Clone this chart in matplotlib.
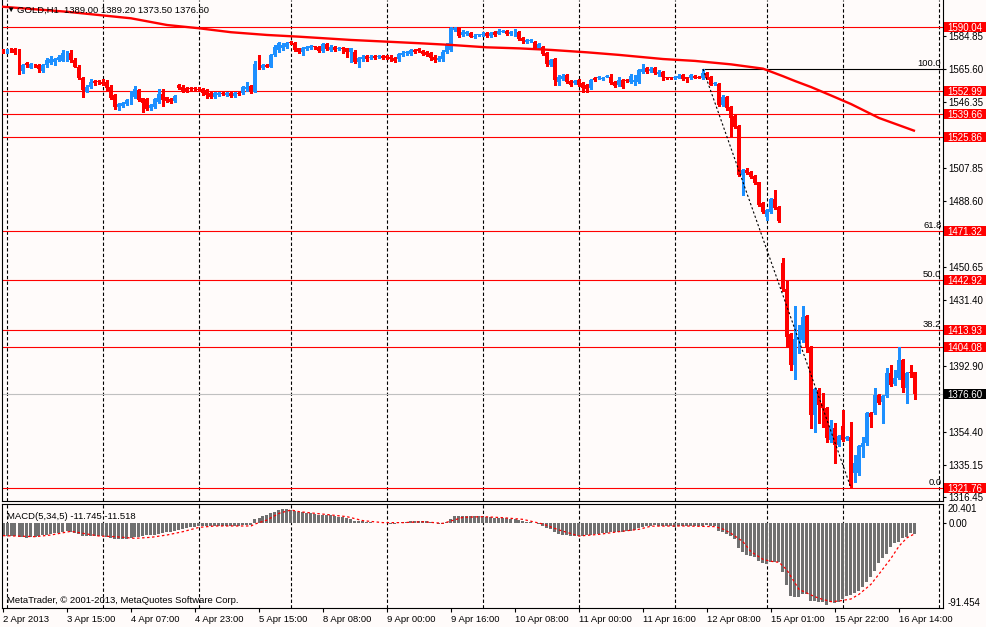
import numpy as np
import matplotlib.pyplot as plt
from matplotlib import transforms
from matplotlib.patches import Rectangle

plt.rcParams['font.family'] = ['Liberation Sans', 'DejaVu Sans']

# ---- GOLD H1 candles ----
opens = [1576.0, 1575.6, 1576.8, 1577.0, 1576.8, 1564.4, 1568.9, 1566.4, 1568.0, 1567.7,
         1564.5, 1567.7, 1569.3, 1569.5, 1570.8, 1570.5, 1571.0, 1574.7, 1571.0, 1567.0,
         1560.2, 1552.4, 1555.3, 1558.6, 1558.3, 1558.2, 1558.2, 1555.3, 1550.5, 1543.7,
         1544.0, 1545.2, 1545.6, 1549.5, 1553.4, 1548.5, 1547.9, 1542.7, 1543.7, 1546.6,
         1551.0, 1549.1, 1548.3, 1547.0, 1556.3, 1555.3, 1554.4, 1554.4, 1554.3, 1554.0,
         1553.8, 1553.4, 1551.4, 1549.5, 1550.5, 1551.4, 1550.5, 1551.4, 1549.9, 1551.8,
         1551.4, 1553.8, 1555.7, 1552.4, 1568.9, 1566.0, 1567.9, 1567.0, 1573.7, 1576.7,
         1577.6, 1578.6, 1581.5, 1580.9, 1577.6, 1575.7, 1577.0, 1577.6, 1578.6, 1578.6,
         1576.3, 1580.1, 1576.7, 1578.6, 1577.2, 1577.8, 1577.6, 1575.7, 1575.7, 1569.9,
         1571.2, 1573.2, 1572.2, 1573.4, 1572.6, 1573.4, 1573.4, 1572.8, 1572.2, 1571.2,
         1573.7, 1574.7, 1574.1, 1576.7, 1577.1, 1576.1, 1575.3, 1574.7, 1572.8, 1570.8,
         1571.2, 1575.7, 1576.7, 1588.3, 1589.7, 1585.4, 1585.8, 1586.4, 1584.2, 1585.2,
         1585.4, 1586.4, 1585.0, 1586.9, 1586.2, 1587.3, 1587.7, 1585.8, 1585.4, 1587.3,
         1583.4, 1581.1, 1581.9, 1581.1, 1577.6, 1578.6, 1574.7, 1567.9, 1571.2, 1558.2,
         1559.6, 1562.1, 1558.6, 1557.6, 1559.2, 1557.3, 1556.3, 1554.4, 1560.2, 1560.5,
         1559.8, 1561.1, 1561.1, 1558.2, 1556.3, 1559.2, 1558.8, 1558.2, 1558.2, 1558.2,
         1564.0, 1566.4, 1564.4, 1566.0, 1562.5, 1563.7, 1560.8, 1560.8, 1560.2, 1560.6,
         1562.1, 1560.8, 1560.2, 1561.3, 1561.0, 1560.2, 1563.1, 1561.1, 1556.7, 1556.7,
         1544.7, 1549.5, 1543.7, 1538.4, 1532.6, 1503.9, 1506.8, 1505.8, 1503.5, 1499.6,
         1487.4, 1479.7, 1482.6, 1490.0, 1485.5, 1452.9, 1437.4, 1411.4, 1393.3, 1407.9,
         1407.9, 1421.9, 1404.0, 1364.2, 1378.8, 1371.0, 1368.1, 1349.7, 1356.5, 1346.8,
         1357.8, 1350.1, 1351.2, 1330.3, 1330.3, 1345.8, 1347.7, 1365.6, 1365.6, 1375.9,
         1372.0, 1375.5, 1388.5, 1382.1, 1385.6, 1396.2, 1380.1, 1388.9, 1389.0]
highs = [1577.0, 1577.0, 1577.8, 1578.0, 1577.4, 1568.5, 1569.5, 1569.0, 1568.5, 1568.3,
         1568.5, 1572.0, 1573.0, 1572.0, 1574.0, 1576.5, 1576.0, 1576.7, 1572.0, 1568.0,
         1561.0, 1556.5, 1559.5, 1559.2, 1559.0, 1559.5, 1559.0, 1556.0, 1551.0, 1546.0,
         1546.5, 1548.0, 1553.0, 1555.7, 1554.0, 1549.0, 1548.5, 1545.5, 1549.0, 1553.7,
         1553.7, 1549.5, 1549.0, 1550.5, 1557.0, 1556.0, 1555.0, 1555.0, 1555.0, 1555.0,
         1554.5, 1554.0, 1552.0, 1552.0, 1552.5, 1552.0, 1552.5, 1552.0, 1552.5, 1552.5,
         1555.5, 1558.0, 1556.0, 1570.5, 1573.7, 1568.5, 1568.5, 1574.5, 1579.5, 1581.5,
         1580.5, 1581.5, 1582.0, 1581.5, 1578.0, 1578.5, 1579.0, 1579.5, 1579.0, 1579.0,
         1581.0, 1581.0, 1579.5, 1579.0, 1578.6, 1578.6, 1578.0, 1578.0, 1576.5, 1572.5,
         1573.5, 1574.0, 1573.5, 1574.0, 1574.0, 1574.0, 1574.0, 1573.5, 1572.8, 1574.8,
         1576.0, 1576.0, 1577.5, 1577.5, 1577.8, 1576.8, 1576.0, 1575.5, 1573.5, 1573.0,
         1576.5, 1580.5, 1589.8, 1590.04, 1589.9, 1588.5, 1587.5, 1587.0, 1585.8, 1586.2,
         1587.0, 1587.0, 1587.2, 1587.5, 1589.0, 1588.5, 1588.5, 1587.5, 1589.0, 1588.0,
         1584.0, 1583.0, 1583.0, 1581.8, 1580.8, 1579.2, 1575.3, 1571.5, 1572.0, 1562.0,
         1562.5, 1562.8, 1559.2, 1559.2, 1559.8, 1558.0, 1557.0, 1560.0, 1561.0, 1561.5,
         1561.2, 1562.0, 1562.5, 1558.8, 1561.1, 1560.0, 1559.5, 1562.5, 1562.1, 1565.8,
         1568.3, 1567.0, 1566.5, 1566.6, 1565.0, 1564.3, 1561.2, 1561.2, 1561.7, 1562.5,
         1562.8, 1561.2, 1562.8, 1562.0, 1561.5, 1565.6, 1563.8, 1561.5, 1557.8, 1557.3,
         1550.2, 1550.0, 1544.3, 1539.0, 1533.0, 1507.4, 1508.2, 1506.4, 1504.0, 1500.0,
         1488.0, 1484.0, 1490.6, 1495.2, 1486.0, 1455.4, 1442.4, 1412.0, 1427.7, 1416.6,
         1427.7, 1422.4, 1404.5, 1379.8, 1380.0, 1376.8, 1369.0, 1361.3, 1359.4, 1352.6,
         1367.1, 1352.2, 1360.3, 1341.0, 1346.8, 1351.6, 1366.2, 1366.0, 1379.8, 1376.5,
         1376.0, 1391.4, 1393.3, 1390.4, 1404.08, 1396.8, 1389.0, 1393.3, 1389.2]
lows = [1575.0, 1575.0, 1575.2, 1574.5, 1562.7, 1563.5, 1567.0, 1566.0, 1566.8, 1564.0,
        1564.0, 1567.0, 1568.5, 1568.0, 1570.0, 1570.0, 1570.5, 1569.8, 1566.5, 1559.5,
        1549.5, 1552.0, 1554.5, 1556.5, 1557.0, 1556.0, 1553.5, 1548.0, 1542.5, 1541.5,
        1543.5, 1544.5, 1545.0, 1549.0, 1547.0, 1540.8, 1541.5, 1542.0, 1543.0, 1546.0,
        1544.1, 1546.5, 1546.0, 1546.5, 1554.0, 1552.5, 1552.5, 1553.4, 1553.0, 1552.8,
        1550.5, 1549.0, 1548.5, 1549.0, 1550.0, 1550.5, 1550.0, 1549.5, 1549.5, 1550.5,
        1551.0, 1553.0, 1551.5, 1552.0, 1565.5, 1565.5, 1566.5, 1566.5, 1573.0, 1575.5,
        1576.5, 1578.0, 1580.0, 1576.0, 1575.0, 1573.5, 1576.5, 1577.0, 1577.5, 1575.5,
        1575.5, 1576.5, 1576.0, 1576.0, 1576.7, 1574.7, 1572.8, 1569.9, 1568.9, 1567.0,
        1570.5, 1570.5, 1571.5, 1571.5, 1572.0, 1571.5, 1571.5, 1570.5, 1569.5, 1570.5,
        1573.0, 1574.0, 1573.5, 1575.0, 1575.5, 1573.5, 1573.0, 1571.0, 1569.5, 1570.0,
        1570.5, 1575.0, 1576.0, 1587.5, 1584.5, 1585.0, 1585.5, 1584.0, 1583.5, 1584.8,
        1585.0, 1584.5, 1584.5, 1585.0, 1585.8, 1587.0, 1585.3, 1585.3, 1585.0, 1582.5,
        1581.0, 1580.5, 1581.5, 1577.0, 1577.0, 1573.5, 1567.5, 1567.5, 1556.3, 1556.3,
        1559.0, 1557.5, 1555.8, 1557.0, 1555.8, 1552.4, 1552.4, 1553.8, 1558.8, 1560.0,
        1559.2, 1560.8, 1556.8, 1555.3, 1555.8, 1554.4, 1558.0, 1557.5, 1556.3, 1557.5,
        1563.5, 1563.5, 1564.0, 1562.5, 1561.7, 1559.2, 1560.0, 1560.0, 1559.8, 1560.2,
        1559.2, 1558.2, 1559.8, 1560.2, 1560.2, 1559.8, 1560.0, 1556.0, 1556.3, 1544.0,
        1544.0, 1542.0, 1526.2, 1531.5, 1503.3, 1492.3, 1504.3, 1502.3, 1498.5, 1486.0,
        1481.6, 1477.7, 1482.0, 1484.0, 1476.5, 1436.5, 1404.0, 1390.4, 1385.0, 1400.1,
        1406.5, 1401.1, 1356.5, 1354.5, 1359.4, 1357.4, 1348.7, 1348.7, 1336.1, 1346.2,
        1349.0, 1349.5, 1321.76, 1325.4, 1329.5, 1340.0, 1347.0, 1357.4, 1365.0, 1370.4,
        1359.8, 1375.0, 1381.0, 1381.5, 1385.0, 1377.8, 1371.0, 1386.5, 1373.5]
closes = [1575.6, 1576.4, 1575.8, 1575.1, 1564.6, 1568.0, 1567.7, 1568.3, 1567.4, 1565.6,
          1568.0, 1570.8, 1571.2, 1571.5, 1572.4, 1575.0, 1574.7, 1571.0, 1567.0, 1560.2,
          1553.4, 1555.3, 1558.2, 1557.3, 1557.8, 1556.9, 1554.4, 1548.5, 1543.7, 1545.2,
          1545.6, 1547.6, 1552.4, 1553.8, 1547.6, 1545.6, 1542.1, 1544.7, 1548.2, 1551.0,
          1547.6, 1547.2, 1546.4, 1549.9, 1554.4, 1553.0, 1553.0, 1553.8, 1553.8, 1553.4,
          1551.4, 1550.5, 1549.5, 1551.4, 1551.8, 1551.0, 1551.8, 1550.1, 1551.8, 1550.9,
          1554.9, 1555.3, 1552.8, 1568.5, 1566.0, 1567.9, 1567.0, 1573.7, 1578.6, 1580.5,
          1579.6, 1580.5, 1580.5, 1576.7, 1575.7, 1577.6, 1578.6, 1579.0, 1578.2, 1576.1,
          1580.1, 1577.0, 1578.6, 1576.7, 1578.0, 1577.2, 1575.7, 1577.6, 1569.9, 1571.8,
          1572.8, 1571.2, 1572.8, 1572.2, 1573.0, 1572.2, 1572.2, 1571.2, 1570.3, 1574.1,
          1575.1, 1575.1, 1576.7, 1575.7, 1576.1, 1574.1, 1573.7, 1571.8, 1570.8, 1572.2,
          1575.7, 1579.6, 1589.3, 1589.3, 1585.0, 1586.9, 1586.9, 1584.4, 1585.0, 1585.6,
          1586.2, 1585.0, 1586.4, 1585.4, 1587.7, 1587.7, 1585.8, 1586.9, 1587.7, 1583.1,
          1581.9, 1582.5, 1582.3, 1577.6, 1580.0, 1574.1, 1568.3, 1570.8, 1559.2, 1561.1,
          1561.5, 1558.2, 1556.3, 1558.6, 1556.3, 1554.4, 1554.0, 1559.2, 1559.2, 1560.9,
          1560.6, 1561.5, 1557.3, 1555.9, 1559.2, 1555.3, 1558.4, 1561.7, 1559.2, 1565.0,
          1565.6, 1564.0, 1565.6, 1563.1, 1564.0, 1561.1, 1560.4, 1560.4, 1561.1, 1561.7,
          1559.8, 1559.8, 1562.1, 1560.6, 1560.6, 1563.1, 1560.6, 1556.3, 1557.3, 1544.7,
          1549.5, 1542.7, 1537.3, 1532.0, 1503.9, 1506.8, 1504.9, 1502.9, 1499.1, 1486.5,
          1482.2, 1483.5, 1490.0, 1484.5, 1477.1, 1437.4, 1409.4, 1393.3, 1408.3, 1409.4,
          1421.1, 1404.0, 1364.2, 1379.2, 1370.0, 1368.1, 1350.6, 1357.4, 1346.8, 1352.0,
          1349.7, 1351.6, 1323.0, 1336.1, 1346.2, 1347.7, 1365.6, 1363.3, 1375.9, 1371.0,
          1375.3, 1388.9, 1381.7, 1385.6, 1396.2, 1380.1, 1388.5, 1388.5, 1376.6]

# 200-period moving average (red thick line), sampled along the chart
ma_bars = [-1, 16, 32, 41, 49, 57, 66, 74, 87, 96, 104, 112, 121, 129, 137, 146, 154,
           165, 173, 182, 190, 195, 198, 202, 207, 212, 219, 228]
ma_vals = [1602.0, 1598.9, 1595.1, 1591.2, 1589.3, 1587.0, 1585.4, 1584.4, 1582.5, 1581.5,
           1580.6, 1579.6, 1578.2, 1577.6, 1576.7, 1575.3, 1573.8, 1571.4, 1570.3, 1568.3,
           1565.8, 1561.4, 1558.6, 1555.1, 1550.2, 1545.2, 1537.1, 1529.5]

# MACD(5,34,5) histogram per bar and signal line
macd_hist = [-13.0, -13.7, -14.1, -14.1, -14.8, -15.5, -15.9, -15.5, -14.8, -14.1,
             -13.4, -13.0, -12.3, -11.2, -10.5, -9.8, -9.1, -9.4, -10.5, -12.0,
             -13.7, -14.1, -14.1, -14.1, -14.1, -13.7, -14.8, -15.9, -17.0, -17.7,
             -17.7, -16.9, -16.2, -15.5, -14.8, -14.1, -13.4, -13.4, -12.7, -12.0,
             -10.9, -10.1, -9.4, -8.7, -7.6, -6.2, -5.5, -4.8, -4.0, -3.3,
             -3.3, -3.3, -3.3, -3.3, -3.7, -3.7, -3.7, -3.3, -3.3, -3.0,
             -2.6, -2.6, -2.6, 4.2, 5.6, 7.4, 8.9, 10.3, 11.7, 13.9,
             14.6, 14.6, 13.9, 12.8, 12.1, 11.4, 10.7, 10.3, 9.6, 8.9,
             8.9, 8.9, 8.5, 7.8, 6.7, 6.0, 5.3, 4.6, 2.4, 1.7,
             1.7, 1.0, 0.6, 0.3, 0.3, 0.0, -0.4, -0.8, -0.8, -0.4,
             0.6, 1.0, 2.0, 2.0, 2.0, 2.0, 1.7, 1.0, -0.4, -1.5,
             -0.8, 1.0, 3.8, 7.4, 7.4, 7.4, 7.4, 7.4, 7.4, 7.1,
             6.7, 6.3, 6.0, 5.6, 5.6, 5.3, 4.9, 4.6, 4.2, 3.1,
             1.7, 1.0, 0.6, -0.4, -1.5, -3.0, -5.1, -6.9, -10.1, -12.3,
             -12.7, -12.7, -13.7, -14.1, -14.1, -13.7, -13.4, -12.7, -12.3, -11.6,
             -11.2, -10.5, -10.1, -10.1, -9.8, -9.4, -9.1, -8.4, -7.3, -5.8,
             -4.4, -3.7, -2.8, -2.3, -3.0, -3.0, -3.3, -3.7, -4.0, -3.7,
             -3.7, -3.7, -3.3, -3.3, -3.3, -3.0, -2.6, -3.3, -3.3, -8.7,
             -9.4, -12.0, -13.7, -17.3, -26.6, -31.0, -34.5, -35.6, -37.0, -40.6,
             -42.8, -44.2, -41.7, -41.7, -41.7, -52.5, -66.8, -78.6, -79.3, -79.3,
             -76.8, -76.8, -83.6, -83.6, -84.7, -84.7, -88.0, -84.7, -86.5, -84.7,
             -81.5, -78.6, -77.5, -75.8, -72.9, -68.6, -63.2, -57.8, -51.4, -42.8,
             -38.1, -33.5, -25.6, -22.0, -20.2, -15.9, -15.2, -11.0, -11.745]
sig_bars = [0, 8, 12, 17, 20, 24, 28, 33, 37, 41, 45, 49, 53, 62, 63, 66, 69, 72, 74, 78,
            81, 86, 90, 95, 100, 105, 110, 115, 120, 125, 130, 135, 139, 144, 149, 154,
            159, 162, 170, 178, 180, 182, 185, 187, 190, 192, 194, 196, 197, 199, 202,
            204, 207, 209, 212, 214, 217, 219, 222, 224, 226, 228]
sig_vals = [-13.7, -14.8, -13.0, -9.0, -11.2, -14.1, -14.8, -16.6, -15.5, -13.0, -9.4,
            -4.8, -3.3, -3.3, -1.2, 3.1, 10.3, 13.9, 12.1, 10.3, 9.0, 6.7, 2.4, 0.3, 0.3,
            1.3, -0.5, 6.0, 6.7, 5.6, 3.8, -1.2, -7.6, -14.1, -12.3, -9.4, -6.9, -3.5,
            -3.3, -4.0, -6.6, -11.2, -20.2, -31.0, -39.2, -41.3, -42.4, -50.7, -57.8,
            -71.4, -77.5, -81.1, -84.7, -84.0, -81.8, -76.8, -66.0, -55.0, -38.1, -25.0,
            -16.0, -11.518]

# horizontal levels, fibo, axis labels
red_levels = [1590.04, 1552.99, 1539.66, 1525.86, 1471.32, 1442.92, 1413.93, 1404.08, 1321.76]
bid = 1376.60
fib_names = ["100.0", "61.8", "50.0", "38.2", "0.0"]
fib_prices = [1565.60, 1471.32, 1442.92, 1413.93, 1321.76]
fib_from = (175, 1565.60)
fib_to = (212, 1321.76)
price_ticks = [1584.85, 1565.60, 1546.35, 1507.85, 1488.60, 1450.65,
               1431.40, 1392.90, 1354.40, 1335.15, 1316.45]
time_ticks = [0, 16, 32, 48, 64, 80, 96, 112, 128, 144, 160, 176, 192, 208, 224]
time_labels = ["2 Apr 2013", "3 Apr 15:00", "4 Apr 07:00", "4 Apr 23:00", "5 Apr 15:00",
               "8 Apr 08:00", "9 Apr 00:00", "9 Apr 16:00", "10 Apr 08:00", "11 Apr 00:00",
               "11 Apr 16:00", "12 Apr 08:00", "15 Apr 01:00", "15 Apr 22:00", "16 Apr 14:00"]
day_bars = [1, 25, 49, 72, 96, 120, 144, 168, 191, 210, 234]

BG = '#FFFBFA'
BULL = '#1E90FF'
BEAR = '#FF0000'
W, H = 986.0, 627.0

fig = plt.figure(figsize=(9.86, 6.27), dpi=100, facecolor=BG)
ax = fig.add_axes([2 / W, 1 - 501 / H, 941 / W, 501 / H], facecolor=BG)
ax2 = fig.add_axes([2 / W, 1 - 608 / H, 941 / W, 104 / H], facecolor=BG)

for a in (ax, ax2):
    a.set_xlim(-0.25, 235)
    for s in a.spines.values():
        s.set_linewidth(0.8)
        s.set_color('black')
    for b in day_bars:
        a.axvline(b, color='black', lw=0.8, ls=(0, (3, 2)), zorder=0.5)
ax.spines['top'].set_visible(False)
ax.set_ylim(1314.19, 1605.75)
ax2.set_ylim(-91.52, 20.33)

# candles
o = np.array(opens); h = np.array(highs); l = np.array(lows); c = np.array(closes)
idx = np.arange(len(o))
cols = np.where(c >= o, BULL, BEAR)
ax.vlines(idx, l, h, colors=cols, lw=0.8, zorder=3, antialiased=False)
body = np.maximum(np.abs(c - o), 0.55)
ax.bar(idx, body, bottom=np.minimum(o, c), width=0.75, color=cols, lw=0, zorder=3,
       antialiased=False)

# MA line and levels
ax.plot(ma_bars, ma_vals, color='#FF0000', lw=1.7, zorder=4, solid_capstyle='butt')
for v in red_levels:
    ax.axhline(v, color='#FF0000', lw=0.8, zorder=2)
ax.axhline(bid, color='#C0C0C0', lw=0.8, zorder=1.8)

# fibonacci
ax.plot([fib_from[0], 235], [fib_from[1], fib_from[1]], color='black', lw=0.8, zorder=2)
ax.plot([fib_from[0], fib_to[0]], [fib_from[1], fib_to[1]], color='black', lw=0.8,
        ls=(0, (2, 2)), zorder=4)
for name, v in zip(fib_names, fib_prices):
    ax.text(234.6, v + 0.6, name, ha='right', va='bottom', fontsize=6.8, zorder=5)

# price axis
ax.yaxis.tick_right()
ax.set_yticks(price_ticks)
ax.set_yticklabels([f"{v:.2f}" for v in price_ticks])
ax.tick_params(axis='y', length=2.5, width=0.8, pad=1.5, labelsize=7, direction='out')
ax.set_xticks([])

# coloured price labels on the right axis
tr = transforms.blended_transform_factory(ax.transAxes, ax.transData)
box_h = 10 * (1605.75 - 1314.19) / 501
for v, fc in [(x, '#FF0000') for x in red_levels] + [(bid, 'black')]:
    ax.add_patch(Rectangle(((944 - 2) / 941, v - box_h / 2), 42 / 941, box_h,
                           transform=tr, facecolor=fc, edgecolor='none',
                           clip_on=False, zorder=6))
    ax.text((947 - 2) / 941, v, f"{v:.2f}", transform=tr, color='white', fontsize=7,
            ha='left', va='center_baseline', clip_on=False, zorder=7)

# MACD panel
ax2.bar(idx, macd_hist, width=0.75, color='#707070', lw=0, zorder=2, antialiased=False)
ax2.plot(sig_bars, sig_vals, color='#FF0000', lw=0.9, ls=(0, (2, 2)), zorder=3)
ax2.yaxis.tick_right()
ax2.set_yticks([0.0])
ax2.set_yticklabels(["0.00"])
ax2.tick_params(axis='y', length=2.5, width=0.8, pad=1.5, labelsize=7, direction='out')
tr2 = transforms.blended_transform_factory(ax2.transAxes, ax2.transData)
ax2.text((948 - 2) / 941, 20.33, "20.401", transform=tr2, ha='left', va='top',
         fontsize=7, clip_on=False)
ax2.text((948 - 2) / 941, -91.52, "-91.454", transform=tr2, ha='left', va='bottom',
         fontsize=7, clip_on=False)
ax2.text(0.005, 0.88, "MACD(5,34,5) -11.745 -11.518", transform=ax2.transAxes,
         fontsize=6.8, va='center')
ax2.text(0.005, 0.07, "MetaTrader, \u00a9 2001-2013, MetaQuotes Software Corp.",
         transform=ax2.transAxes, fontsize=6.8, va='center')

ax2.set_xticks(time_ticks)
ax2.set_xticklabels(time_labels, ha='left')
ax2.tick_params(axis='x', length=3, width=0.8, pad=2, labelsize=6.8, direction='out')

# header
fig.text(6 / W, 1 - 10.5 / H, "\u25bc", fontsize=6, va='center')
fig.text(17 / W, 1 - 10.5 / H, "GOLD,H1  1389.00 1389.20 1373.50 1376.60",
         fontsize=6.8, va='center')

fig.savefig("out.png", dpi=100, facecolor=BG)
